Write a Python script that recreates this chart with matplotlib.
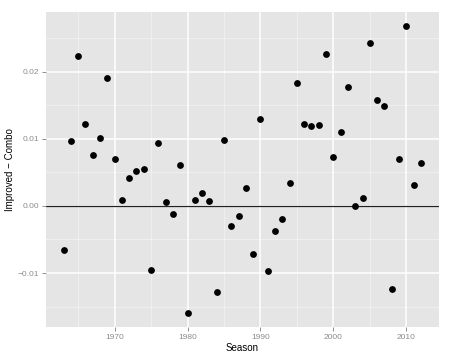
import matplotlib
matplotlib.use("Agg")
import matplotlib.pyplot as plt
import numpy as np

seasons = list(range(1963, 2013))
values = [
    -0.00654, 0.0096, 0.02233, 0.01213, 0.00752, 0.01005, 0.01906, 0.00698,  # 1963-1970
    0.00094, 0.00416, 0.00525, 0.00554, -0.00951, 0.00936, 0.00064, -0.00125,  # 1971-1978
    0.00603, -0.0159, 0.00089, 0.00198, 0.00074, -0.01288, 0.00975, -0.00297,  # 1979-1986
    -0.00149, 0.00272, -0.00713, 0.01293, -0.00972, -0.00377, -0.00193, 0.00336,  # 1987-1994
    0.01832, 0.01223, 0.01189, 0.01207, 0.02268, 0.00728, 0.011, 0.01768,  # 1995-2002
    -0.00006, 0.00119, 0.02427, 0.01575, 0.01495, -0.01239, 0.00692, 0.02675,  # 2003-2010
    0.00306, 0.00633,  # 2011-2012
]
x_ticks = [1970, 1980, 1990, 2000, 2010]
x_minor = [1965, 1975, 1985, 1995, 2005]
y_ticks = [-0.01, 0.0, 0.01, 0.02]
y_tick_labels = ["\u22120.01", "0.00", "0.01", "0.02"]
y_minor = [-0.015, -0.005, 0.005, 0.015, 0.025]

plt.rcParams['font.family'] = ['Liberation Sans', 'DejaVu Sans']

fig = plt.figure(figsize=(4.51, 3.59), dpi=100)
ax = fig.add_axes([45.7/451, 1-327/359, (438.7-45.7)/451, (327-12)/359])
ax.set_facecolor('#E5E5E5')
for s in ax.spines.values():
    s.set_visible(False)

xr = max(seasons) - min(seasons)
ax.set_xlim(min(seasons) - 0.05*xr, max(seasons) + 0.05*xr)
yr = max(values) - min(values)
ax.set_ylim(min(values) - 0.05*yr, max(values) + 0.05*yr)

for m in x_minor:
    ax.axvline(m, color='#F2F2F2', lw=0.6, zorder=0)
for m in y_minor:
    ax.axhline(m, color='#F2F2F2', lw=0.6, zorder=0)
for t in x_ticks:
    ax.axvline(t, color='white', lw=1.1, zorder=0.5)
for t in y_ticks:
    ax.axhline(t, color='white', lw=1.1, zorder=0.5)

ax.axhline(0, color='#222222', lw=0.9, zorder=1)
ax.scatter(seasons, values, s=24, color='black', zorder=2, linewidths=0)

ax.set_xticks(x_ticks)
ax.set_xticklabels([str(t) for t in x_ticks])
ax.set_yticks(y_ticks)
ax.set_yticklabels(y_tick_labels)
ax.tick_params(axis='both', colors='#7F7F7F', labelsize=6, length=2.8, width=0.6, pad=2)
ax.tick_params(axis='both', labelcolor='#8C8C8C')

ax.set_xlabel('Season', fontsize=7, color='black', labelpad=1.5)
ax.set_ylabel('Improved \u2212 Combo', fontsize=7, color='black', labelpad=2)

fig.savefig('out.png', dpi=100)
